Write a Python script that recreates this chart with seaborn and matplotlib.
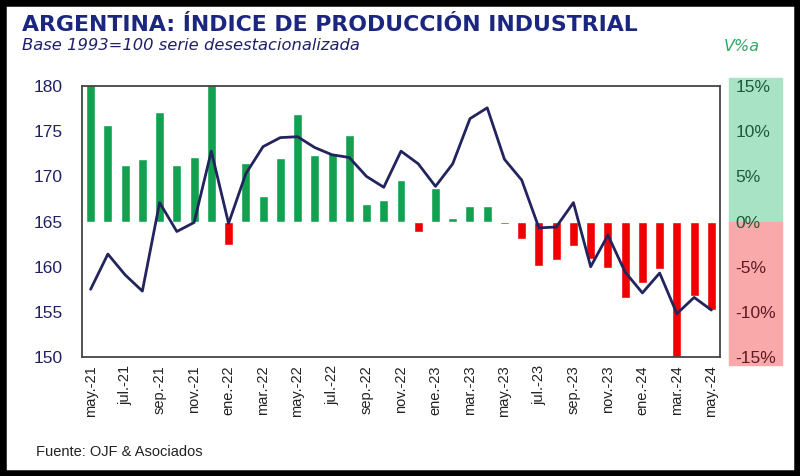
import seaborn as sns
import matplotlib.pyplot as plt
import pandas as pd
from matplotlib.patches import Rectangle

# meses may-21 .. may-24
meses = ["may.-21", "jun.-21", "jul.-21", "ago.-21", "sep.-21", "oct.-21", "nov.-21", "dic.-21",
         "ene.-22", "feb.-22", "mar.-22", "abr.-22", "may.-22", "jun.-22", "jul.-22", "ago.-22",
         "sep.-22", "oct.-22", "nov.-22", "dic.-22", "ene.-23", "feb.-23", "mar.-23", "abr.-23",
         "may.-23", "jun.-23", "jul.-23", "ago.-23", "sep.-23", "oct.-23", "nov.-23", "dic.-23",
         "ene.-24", "feb.-24", "mar.-24", "abr.-24", "may.-24"]

# indice desestacionalizado (eje izq.)
ipi = [157.5, 161.4, 159.1, 157.3, 167.1, 163.9, 164.9, 172.8, 164.8, 170.3, 173.3, 174.3,
       174.4, 173.2, 172.4, 172.1, 170.0, 168.8, 172.8, 171.4, 168.9, 171.4, 176.4, 177.6,
       171.9, 169.6, 164.3, 164.4, 167.1, 160.0, 163.5, 159.4, 157.1, 159.3, 154.8, 156.6, 155.2]

# variacion anual % (eje der.)
var_anual = [15.8, 10.7, 6.3, 6.9, 12.1, 6.3, 7.1, 15.5, -2.6, 6.5, 2.8, 7.0,
             11.9, 7.4, 7.6, 9.6, 2.0, 2.4, 4.6, -1.2, 3.7, 0.4, 1.7, 1.7,
             -0.3, -1.9, -4.9, -4.3, -2.7, -4.2, -5.1, -8.5, -6.8, -5.2, -15.3, -8.2, -9.8]

left_ticks = [150, 155, 160, 165, 170, 175, 180]
right_ticks = [-15, -10, -5, 0, 5, 10, 15]
right_labels = ["-15%", "-10%", "-5%", "0%", "5%", "10%", "15%"]

navy = "#1F2068"
df = pd.DataFrame({"pos": range(len(meses)), "mes": meses, "ipi": ipi, "var": var_anual})
df["signo"] = ["pos" if v >= 0 else "neg" for v in df["var"]]

sns.set_style("white")
plt.rcParams["font.family"] = ["Liberation Sans", "DejaVu Sans"]

fig = plt.figure(figsize=(8, 4.76), dpi=100)
ax = fig.add_axes([0.1025, 0.25, 0.7975, 0.569])

sns.barplot(data=df, x="pos", y="var", hue="signo", palette={"pos": "#12A150", "neg": "#F00000"},
            width=0.52, dodge=False, legend=False, saturation=1, ax=ax)
ax.set_ylim(-15, 15)

ax2 = ax.twinx()
sns.lineplot(data=df, x="pos", y="ipi", color="#23235E", lw=2.0, ax=ax2)
ax2.set_ylim(150, 180)
ax.set_xlim(-0.5, len(meses) - 0.5)

# eje derecho = barras, eje izquierdo = linea
ax.yaxis.tick_right()
ax.set_yticks(right_ticks)
ax.set_yticklabels(right_labels, fontsize=12.5)
for lab, v in zip(ax.get_yticklabels(), right_ticks):
    lab.set_color("#1D5A38" if v >= 0 else "#5E1A24")
ax.tick_params(axis="y", length=0, pad=11)

ax2.yaxis.tick_left()
ax2.set_yticks(left_ticks)
ax2.set_yticklabels([str(t) for t in left_ticks], fontsize=12.5, color=navy)
ax2.tick_params(axis="y", length=0, pad=14)

ax.set_xticks(df["pos"][::2])
ax.set_xticklabels(df["mes"][::2], rotation=90, fontsize=10.5, color="#222222")
ax.tick_params(axis="x", length=0, pad=6)

for a in (ax, ax2):
    a.set_xlabel("")
    a.set_ylabel("")
for s in ax.spines.values():
    s.set_color("#444444")
    s.set_linewidth(1.3)
for s in ax2.spines.values():
    s.set_visible(False)

# fondo verde / rojo detras de las etiquetas del eje derecho
fig.add_artist(Rectangle((0.911, 0.5336), 0.0665, 0.3025, transform=fig.transFigure,
                         color="#A8E3C6", zorder=-1))
fig.add_artist(Rectangle((0.911, 0.2332), 0.0665, 0.3004, transform=fig.transFigure,
                         color="#F9A9A9", zorder=-1))

fig.text(0.028, 0.935, "ARGENTINA: ÍNDICE DE PRODUCCIÓN INDUSTRIAL", fontsize=15.8,
         fontweight="bold", color="#1B2680", family="DejaVu Sans")
fig.text(0.028, 0.895, "Base 1993=100 serie desestacionalizada", fontsize=11.8,
         style="italic", color=navy, family="DejaVu Sans")
fig.text(0.905, 0.893, "V%a", fontsize=11.5, style="italic", color="#2EA868",
         family="DejaVu Sans")
fig.text(0.045, 0.042, "Fuente: OJF & Asociados", fontsize=10.5, color="#222222")

fig.add_artist(Rectangle((0, 0), 1, 1, transform=fig.transFigure, fill=False,
                         ec="black", lw=9))

fig.savefig("out.png", dpi=100)
